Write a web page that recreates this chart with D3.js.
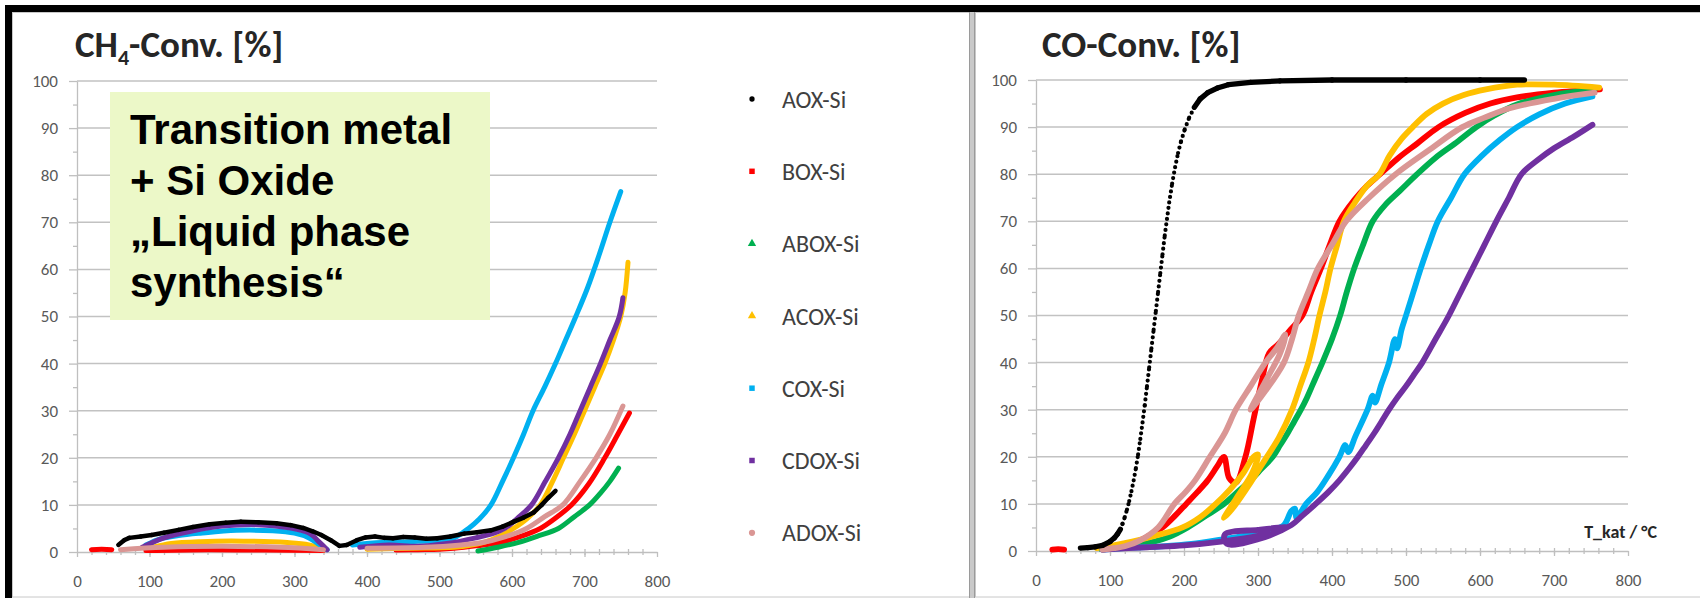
<!DOCTYPE html>
<html>
<head>
<meta charset="utf-8">
<script src="https://cdn.jsdelivr.net/npm/d3@7"></script>
<style>
  body { margin: 0; background: #fff; }
  svg text { font-family: Carlito, Lato, "Open Sans", sans-serif; }
</style>
</head>
<body>
<div id="chartGoesHere"></div>
<script>
// two light-off plots: CH4 and CO conversion vs catalyst temperature
var seriesNames = ["AOX-Si", "BOX-Si", "ABOX-Si", "ACOX-Si", "COX-Si", "CDOX-Si", "ADOX-Si"];
var seriesColors = ["#000000", "#ff0000", "#00b050", "#ffc000", "#00b0f0", "#7030a0", "#da9694"];
var legendSymbols = [d3.symbolCircle, d3.symbolSquare, d3.symbolTriangle, d3.symbolTriangle,
                     d3.symbolSquare, d3.symbolSquare, d3.symbolCircle];
var yTicks = [0, 10, 20, 30, 40, 50, 60, 70, 80, 90, 100];
var xTicks = [0, 100, 200, 300, 400, 500, 600, 700, 800];
var boxLines = ["Transition metal", "+ Si Oxide", "\u201eLiquid phase", "synthesis\u201c"];

// CH4 conversion, points are [T_kat in degC, %]; null = gap in the record
var ch4AOX = [[57,1.5],[65,2.5],[72,3],[88,3.3],[103,3.6],[120,4.1],[140,4.7],[160,5.3],[183,5.9],
  [205,6.2],[226,6.4],[250,6.3],[275,6.1],[295,5.7],[312,5.1],[325,4.4],[337,3.6],[350,2.5],[362,1.3],
  [372,1.5],[386,2.5],[398,3.1],[411,3.3],[424,3.0],[436,2.9],[450,3.2],[466,3.1],[482,2.8],[497,2.9],
  [515,3.3],[534,3.9],[552,4.2],[571,4.6],[587,5.4],[602,6.4],[616,7.3],[630,8.4],[641,10],[650,11.5],[660,13]];
var ch4BOX = [[20,0.5],[34,0.6],[48,0.5],null,[95,0.3],[180,0.5],[260,0.4],[340,0.3],null,
  [440,0.4],[470,0.5],[500,0.6],[520,0.8],[550,1.3],[583,2],[612,3.3],[639,5],[660,7.2],[682,10],
  [706,14.5],[728,20],[746,25],[762,29.5]];
var ch4ABOX = [[553,0.2],[580,1],[608,2],[636,3.4],[664,5],[686,7.5],[707,10],[722,12.5],[735,15],[747,17.8]];
var ch4ACOX = [[105,1],[130,1.8],[170,2.2],[230,2.3],[290,2],[320,1.5],[340,0.5],null,
  [400,0.6],[460,0.8],[520,1],[560,2],[585,3.5],[602,5],[620,7],[639,10],[656,15],[671,20],[686,25],
  [700,30],[714,35],[728,40],[740,45],[750,50],[756,55],[760,61.5]];
var ch4COX = [[95,1.5],[115,2.8],[140,3.5],[170,4],[220,4.6],[270,4.5],[300,4],[320,3],[335,1.5],[345,0.5],null,
  [380,1.5],[420,2],[460,2.2],[500,2.5],[520,3],[540,5],[555,7],[571,10],[587,15],[602,20],[616,25],
  [629,30],[645,35],[660,40],[674,45],[688,50],[704,56],[720,63],[735,70],[750,76.5]];
var ch4CDOX = [[90,1],[120,3],[160,4.5],[200,5.5],[250,5.8],[290,5.2],[320,4],[335,2],[345,0.5],null,
  [390,1],[430,1.5],[470,1.2],[510,1.8],[550,3],[575,4],[590,5],[610,7.5],[627,10],[646,15],[664,20],
  [680,25],[694,30],[708,35],[722,40],[735,45],[748,50],[753,54]];
var ch4ADOX = [[60,0.5],[120,1],[200,1.2],[280,1],[340,0.5],null,
  [400,0.8],[480,1],[530,1.5],[559,2],[590,3.2],[620,5],[645,7.5],[670,10],[694,15],[716,20],[735,25],[753,31]];

// CO conversion, same layout
var coAOX = [[60,0.6],[70,0.7],[80,0.9],[90,1.2],[100,2],[106,2.8],[110,3.6],[114,4.6],[117,5.8],[120,7.2],
  [123,8.8],[126,10.6],[129,12.7],[132,15],[135,17.6],[138,20.5],[141,23.8],[144,27.3],[147,31],[150,35],
  [153,39],[156,43],[159,47],[162,51],[165,55],[168,59],[171,63],[174,67],[177,70.5],[180,74],[184,78],
  [188,81.5],[192,84.5],[196,87],[201,89.5],[207,92],[214,94.2],[222,96],[232,97.3],[245,98.3],[260,99],
  [290,99.5],[330,99.8],[400,100],[500,100],[600,100],[660,100]];
var coBOX = [[22,0.3],[30,0.4],[38,0.3],null,[90,0.3],[110,0.8],[130,1.5],[150,3],[171,5],[188,7.5],
  [203,10],[218,12.5],[232,15],[245,18],[254,20],[261,15.5],[270,14.5],[283,20],[294,28],[305,36],
  [315,42],[328,44],[344,47],[360,50],[372,55],[385,60],[397,65],[410,70],[430,74.5],[447,77.5],[465,80],
  [490,83.5],[515,86.5],[544,90],[580,93],[614,95],[650,96.3],[700,97.3],[762,98]];
var coABOX = [[88,0.4],[115,0.8],[140,1.3],[160,2],[180,3],[205,5],[230,7.5],[254,10],[272,12.5],[290,15],
  [305,17.5],[320,20],[330,22.5],[340,25],[349,27.5],[358,30],[366,32.5],[373,35],[380,37.5],[387,40],
  [400,45],[411,50],[420,55],[430,60],[442,65],[455,70],[472,73.5],[492,76.5],[515,80],[540,83.5],
  [566,86.5],[595,90],[620,92.5],[650,94.8],[700,96.8],[755,98]];
var coACOX = [[82,0.6],[105,1.2],[130,2],[160,3.2],[198,5],[222,7.2],[243,10],[262,13],[280,16.5],[294,20],
  [300,20.5],[292,16.5],[272,11.5],[254,7],[268,9.5],[290,14.5],[310,19.5],[328,24],[346,30],[357,35],
  [368,40],[376,45],[383,50],[391,55],[398,60],[407,65],[416,70],[431,74],[447,77.5],[464,80],[478,84],
  [494,87.5],[509,90],[528,92.8],[550,95],[578,96.8],[608,98],[650,99],[700,99],[761,98.4]];
var coCOX = [[90,0.3],[130,0.7],[170,1],[210,1.5],[250,2.4],[285,3.3],[315,4.3],[335,5.5],[345,8.5],[350,9],
  [352,7],[365,10],[380,12.5],[395,16],[410,20],[418,22.5],[422,21],[432,24.5],[448,30],[455,33],[458,31.5],
  [467,35.5],[477,40],[485,45],[488,43],[494,47],[500,50],[510,55],[520,60],[531,65],[543,70],[561,75],
  [579,80],[603,84],[627,87.3],[650,90],[680,92.7],[715,95],[752,96.5]];
var coCDOX = [[90,0.3],[150,0.8],[200,1.2],[250,2],[300,3.2],[340,5],[300,4.5],[255,3.5],[258,1.5],[300,2.5],
  [345,5.5],[360,7.5],[378,10],[395,12.5],[410,15],[423,17.5],[435,20],[446,22.5],[457,25],[467,27.5],
  [477,30],[488,32.5],[500,35],[511,37.5],[522,40],[540,45],[558,50],[574,55],[590,60],[606,65],[622,70],
  [639,75],[656,80],[678,83],[700,85.5],[727,88],[752,90.5]];
var coADOX = [[90,0.3],[105,0.6],[120,1],[140,2.2],[165,5],[187,10],[202,12.5],[215,15],[235,20],[255,25],
  [270,30],[290,35],[310,40],[325,43],[337,46],[330,42],[310,36],[290,30],[310,34],[335,40],[346,45],
  [355,50],[368,55],[381,60],[400,65],[419,70],[450,75],[486,80],[530,85],[576,90],[606,92],[640,94],
  [700,96],[755,97.3]];

var ch4Series = [ch4AOX, ch4BOX, ch4ABOX, ch4ACOX, ch4COX, ch4CDOX, ch4ADOX];
var coSeries = [coAOX, coBOX, coABOX, coACOX, coCOX, coCDOX, coADOX];

var width = 1700, height = 598;
var svg = d3.select("#chartGoesHere").append("svg")
  .attr("width", width).attr("height", height);

svg.append("rect").attr("width", width).attr("height", height).attr("fill", "#fff");
// the two slide panels
svg.append("rect").attr("x", 12.5).attr("y", 12.5).attr("width", 957).attr("height", 584.5)
  .attr("fill", "#fff").attr("stroke", "#c8c8c8");
svg.append("rect").attr("x", 975.5).attr("y", 12.5).attr("width", 730).attr("height", 584.5)
  .attr("fill", "#fff").attr("stroke", "#c8c8c8");
svg.append("rect").attr("x", 969).attr("y", 12).attr("width", 6).attr("height", 586).attr("fill", "#c9c9c9");
svg.append("line").attr("x1", 969.5).attr("x2", 969.5).attr("y1", 12).attr("y2", 598).attr("stroke", "#9a9a9a");
svg.append("line").attr("x1", 974.5).attr("x2", 974.5).attr("y1", 12).attr("y2", 598).attr("stroke", "#9a9a9a");
// black frame (top + left)
svg.append("rect").attr("x", 5).attr("y", 5).attr("width", width - 5).attr("height", 7).attr("fill", "#000");
svg.append("rect").attr("x", 5).attr("y", 5).attr("width", 7).attr("height", height - 5).attr("fill", "#000");

function drawPanel(p){
  var x = d3.scaleLinear().domain([0, 800]).range([p.left, p.right]);
  var y = d3.scaleLinear().domain([0, 100]).range([p.bottom, p.top]);
  var g = svg.append("g");

  g.selectAll(".grid").data(yTicks.slice(1)).join("line")
    .attr("class", "grid")
    .attr("x1", x(0)).attr("x2", x(800))
    .attr("y1", d => y(d)).attr("y2", d => y(d))
    .attr("stroke", "#c2c2c2").attr("stroke-width", 1.5);

  var yAxis = g.append("g").attr("transform", "translate(" + x(0) + ",0)")
    .call(d3.axisLeft(y).tickValues(yTicks).tickSize(8).tickSizeOuter(0).tickPadding(11));
  var yMinor = g.append("g").attr("transform", "translate(" + x(0) + ",0)")
    .call(d3.axisLeft(y).tickValues(d3.range(5, 100, 10)).tickSize(4).tickSizeOuter(0).tickFormat(""));
  var xAxis = g.append("g").attr("transform", "translate(0," + y(0) + ")")
    .call(d3.axisBottom(x).tickValues(xTicks).tickSize(5).tickSizeOuter(0).tickPadding(18));
  var xMinor = g.append("g").attr("transform", "translate(0," + (y(0) - 3) + ")")
    .call(d3.axisBottom(x).tickValues(d3.range(20, 800, 20)).tickSize(6).tickSizeOuter(0).tickFormat(""));
  xMinor.select(".domain").remove();
  yMinor.select(".domain").remove();
  [yAxis, yMinor, xAxis, xMinor].forEach(function(a){
    a.selectAll("path, line").attr("stroke", "#bfbfbf").attr("stroke-width", 1.3);
    a.selectAll("text").attr("fill", "#595959").style("font-size", "17px");
  });

  // title
  var t = g.append("text").attr("x", p.titleX).attr("y", 57)
    .style("font-size", "37px").style("font-weight", "bold").attr("fill", "#262626");
  p.title.forEach(function(part, i){
    var ts = t.append("tspan").text(part);
    if (p.sub === i) ts.attr("dy", 8).style("font-size", "22px");
    if (p.sub !== undefined && i === p.sub + 1) ts.attr("dy", -8);
  });

  var line = d3.line().defined(d => d !== null)
    .x(d => x(d[0])).y(d => y(d[1]))
    .curve(d3.curveCatmullRom.alpha(0.5));

  // coloured series first, AOX-Si (markers only in the original) on top
  for (var s = 1; s < p.data.length; s++){
    g.append("path").datum(p.data[s])
      .attr("d", line)
      .attr("fill", "none")
      .attr("stroke", seriesColors[s])
      .attr("stroke-width", p.lw)
      .attr("stroke-linejoin", "round")
      .attr("stroke-linecap", "round");
  }
  var pts = p.data[0], segs = [];
  for (var i = 1; i < pts.length; i++){
    var a = pts[i - 1], b = pts[i];
    if (!a || !b) continue;
    var dx = Math.abs(x(b[0]) - x(a[0])), dy = Math.abs(y(b[1]) - y(a[1]));
    segs.push({a: a, b: b, steep: dy > 1.6 * dx});
  }
  g.selectAll(".aox").data(segs).join("line")
    .attr("class", "aox")
    .attr("x1", d => x(d.a[0])).attr("y1", d => y(d.a[1]))
    .attr("x2", d => x(d.b[0])).attr("y2", d => y(d.b[1]))
    .attr("stroke", seriesColors[0])
    .attr("stroke-width", d => d.steep ? 4.2 : p.lw - 0.5)
    .attr("stroke-dasharray", d => d.steep ? "0 5.6" : null)
    .attr("stroke-linecap", "round");

  return {x: x, y: y, g: g};
}

var left = drawPanel({title: ["CH", "4", "-Conv. [%]"], sub: 1, titleX: 75,
  left: 77, right: 657, top: 81, bottom: 552, data: ch4Series, lw: 5});
var right = drawPanel({title: ["CO-Conv. [%]"], titleX: 1042,
  left: 1036, right: 1628, top: 80, bottom: 551, data: coSeries, lw: 5.8});

// annotation box on the CH4 plot
svg.append("rect").attr("x", 110).attr("y", 92).attr("width", 380).attr("height", 228).attr("fill", "#ecf8c8");
svg.append("g").selectAll("text").data(boxLines).join("text")
  .attr("x", 130).attr("y", (d, i) => 144 + i * 51)
  .text(d => d)
  .style("font-family", "'Liberation Sans', Arial, sans-serif")
  .style("font-size", "42px").style("font-weight", "bold").attr("fill", "#000");

// legend
var legend = svg.append("g").selectAll("g").data(seriesNames).join("g")
  .attr("transform", (d, i) => "translate(752," + (99 + i * 72.3) + ")");
legend.append("path")
  .attr("d", (d, i) => d3.symbol().type(legendSymbols[i]).size(i === 0 ? 22 : 30)())
  .attr("fill", (d, i) => seriesColors[i]);
legend.append("text").attr("x", 30).attr("dy", "0.36em")
  .text(d => d).style("font-size", "24px").attr("fill", "#404040");

svg.append("text").attr("x", 1657).attr("y", 538).attr("text-anchor", "end")
  .text("T_kat / \u00b0C").style("font-size", "18px").style("font-weight", "bold").attr("fill", "#262626");
</script>
</body>
</html>
